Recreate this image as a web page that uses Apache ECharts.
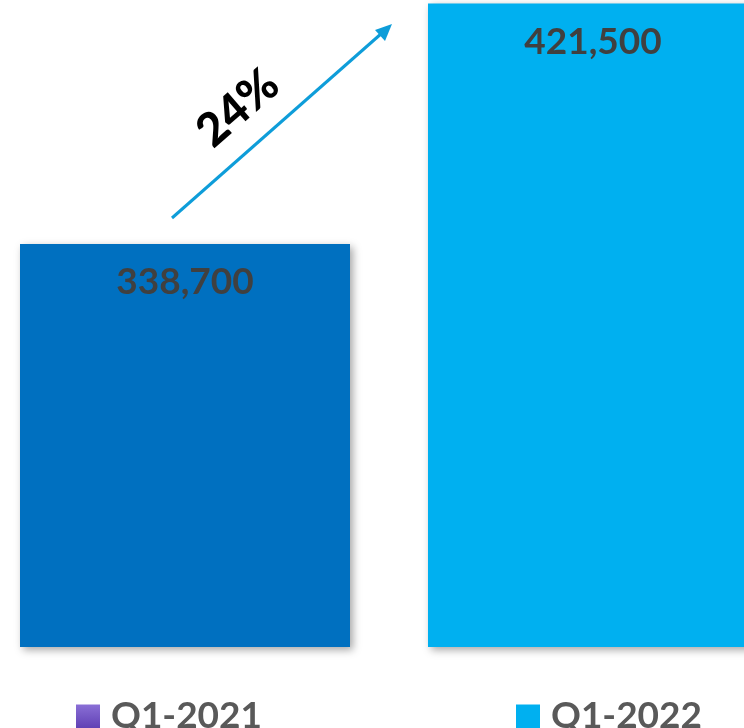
<!DOCTYPE html>
<html>
<head>
<meta charset="utf-8">
<script src="https://cdn.jsdelivr.net/npm/echarts@6/dist/echarts.min.js"></script>
<style>html,body{margin:0;padding:0;background:#fff;}#c{width:744px;height:728px;}</style>
</head>
<body>
<div id="c"></div>
<script>
const categories = ['Q1-2021', 'Q1-2022'];
const values = [338700, 421500];
const growthLabel = '24%';
const barColors = ['#0070C0', '#00B0F0'];
const legendColors = ['#7E5CCB', '#00B0F0'];

const chart = echarts.init(document.getElementById('c'));
const fmt = v => v.toLocaleString('en-US');

const series = categories.map((name, i) => ({
  name: name,
  type: 'bar',
  barWidth: 330,
  barGap: '-100%',
  data: categories.map((_, j) => j === i ? values[i] : '-'),
  itemStyle: {
    color: barColors[i],
    shadowBlur: 8,
    shadowOffsetX: 3,
    shadowOffsetY: 3,
    shadowColor: 'rgba(0,0,0,0.35)'
  },
  label: {
    show: true,
    position: 'insideTop',
    distance: 20,
    formatter: p => fmt(p.value),
    fontFamily: 'Lato',
    fontWeight: 'bold',
    fontSize: 37,
    color: '#404040'
  }
}));

const legendCommon = {
  icon: 'rect',
  itemWidth: 24,
  itemHeight: 24,
  top: 698,
  padding: 0,
  textStyle: { fontFamily: 'Lato', fontWeight: 'bold', fontSize: 37, color: '#595959', padding: [0, 0, 0, 6] }
};

chart.setOption({
  animation: false,
  grid: { left: -19, width: 816, top: 2, height: 645, containLabel: false, outerBoundsMode: 'none' },
  xAxis: { type: 'category', data: categories, show: false },
  yAxis: { type: 'value', min: 200000, max: 422000, show: false },
  legend: [
    Object.assign({}, legendCommon, { left: 76, data: [{ name: categories[0], itemStyle: { color: new echarts.graphic.LinearGradient(0,0,0,1,[{offset:0,color:'#8A6FD6'},{offset:1,color:'#6040B4'}]) } }] }),
    Object.assign({}, legendCommon, { left: 516, data: [{ name: categories[1], itemStyle: { color: legendColors[1] } }] })
  ],
  series: series,
  graphic: [
    {
      type: 'line',
      shape: { x1: 172, y1: 218, x2: 382, y2: 33 },
      style: { stroke: '#0E9DD9', lineWidth: 3 }
    },
    {
      type: 'polygon',
      shape: { points: [[392, 24], [375, 30], [385, 41]] },
      style: { fill: '#0E9DD9' }
    },
    {
      type: 'text',
      x: 238, y: 108,
      rotation: 41 * Math.PI / 180,
      style: {
        text: growthLabel,
        fontFamily: 'Lato',
        fontWeight: 900,
        fontSize: 46,
        fill: '#000',
        align: 'center',
        verticalAlign: 'middle'
      }
    }
  ]
});
</script>
</body>
</html>
